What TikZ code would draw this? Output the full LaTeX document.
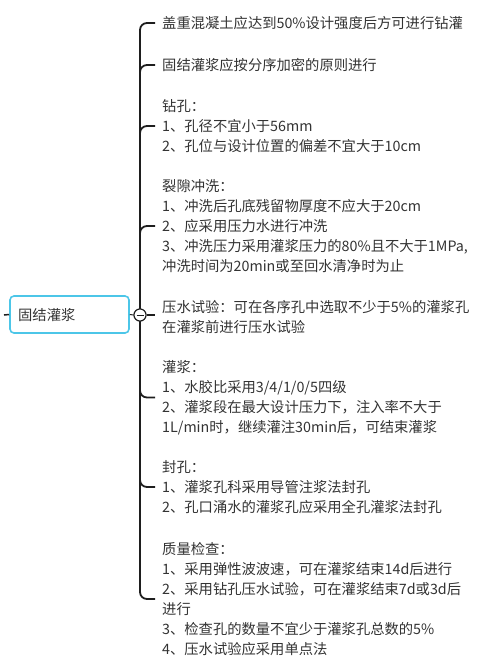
\documentclass[tikz,border=0pt]{standalone}
\usepackage{fontspec}
\setmainfont{Noto Sans CJK SC}
\usetikzlibrary{calc}
\definecolor{txt}{HTML}{333333}
\definecolor{ln}{HTML}{1E1E1E}
\definecolor{cy}{HTML}{4CC6E8}
\begin{document}
\begin{tikzpicture}[x=1pt,y=-1pt,
  leaf/.style={anchor=west,align=left,inner sep=0pt,text=txt,font=\fontsize{14.3}{20}\selectfont},
  br/.style={draw=ln,line width=1.8pt,rounded corners=7pt},
  rootbox/.style={draw=cy,line width=1.6pt,rounded corners=4pt,minimum width=119pt,minimum height=37pt,inner sep=0pt,text=txt,font=\fontsize{14.3}{20}\selectfont},
  collapse/.style={circle,draw=ln,line width=1pt,fill=white,minimum size=12pt,inner sep=0pt}]
\useasboundingbox (0,0) rectangle (500,657);
\node[rootbox] (root) at (69.5,314.5) {};
\node[anchor=west,inner sep=0pt,text=txt,font=\fontsize{14.3}{20}\selectfont] (rootlbl) at (18,315) {固结灌浆};
\coordinate (lt) at (4,315);
\node[collapse] (col) at (140,315) {};
\node[leaf] (b1) at (162,23) {盖重混凝土应达到50\%设计强度后方可进行钻灌};
\node[leaf] (b2) at (162,65) {固结灌浆应按分序加密的原则进行};
\node[leaf] (b3) at (162,126) {钻孔：\\1、孔径不宜小于56mm\\2、孔位与设计位置的偏差不宜大于10cm};
\node[leaf] (b4) at (162,226) {裂隙冲洗：\\1、冲洗后孔底残留物厚度不应大于20cm\\2、应采用压力水进行冲洗\\3、冲洗压力采用灌浆压力的80\%且不大于1MPa,\\冲洗时间为20min或至回水清净时为止};
\node[leaf] (b5) at (162,317) {压水试验：可在各序孔中选取不少于5\%的灌浆孔\\在灌浆前进行压水试验};
\node[leaf] (b6) at (162,397.5) {灌浆：\\1、水胶比采用3/4/1/0/5四级\\2、灌浆段在最大设计压力下，注入率不大于\\1L/min时，继续灌注30min后，可结束灌浆};
\node[leaf] (b7) at (162,487) {封孔：\\1、灌浆孔科采用导管注浆法封孔\\2、孔口涌水的灌浆孔应采用全孔灌浆法封孔};
\node[leaf] (b8) at (162,599) {质量检查：\\1、采用弹性波波速，可在灌浆结束14d后进行\\2、采用钻孔压水试验，可在灌浆结束7d或3d后\\进行\\3、检查孔的数量不宜少于灌浆孔总数的5\%\\4、压水试验应采用单点法};
% spine with top and bottom branches
\draw[br] ([xshift=-7pt]b1.west) -| (col.center) |- ([xshift=-7pt]b8.west);
\draw[br] ($(col.center|-b2.west)+(0,10)$) |- ([xshift=-7pt]b2.west);
\draw[br] ($(col.center|-b3.west)+(0,10)$) |- ([xshift=-7pt]b3.west);
\draw[br] ($(col.center|-b4.west)+(0,10)$) |- ([xshift=-7pt]b4.west);
\draw[br] (col.east) -- ([xshift=-7pt]col.east -| b5.west);
\draw[br] ($(col.center|-b6.west)+(0,-10)$) |- ([xshift=-7pt]b6.west);
\draw[br] ($(col.center|-b7.west)+(0,-10)$) |- ([xshift=-7pt]b7.west);
\draw[ln,line width=1.5pt] (lt) -- (root.west);
\draw[ln,line width=1pt] (root.east) -- (col.west);
\node[collapse] at (col.center) {};
\draw[ln,line width=1pt] ([xshift=-3.5pt]col.center) -- ([xshift=3.5pt]col.center);
\end{tikzpicture}
\end{document}
